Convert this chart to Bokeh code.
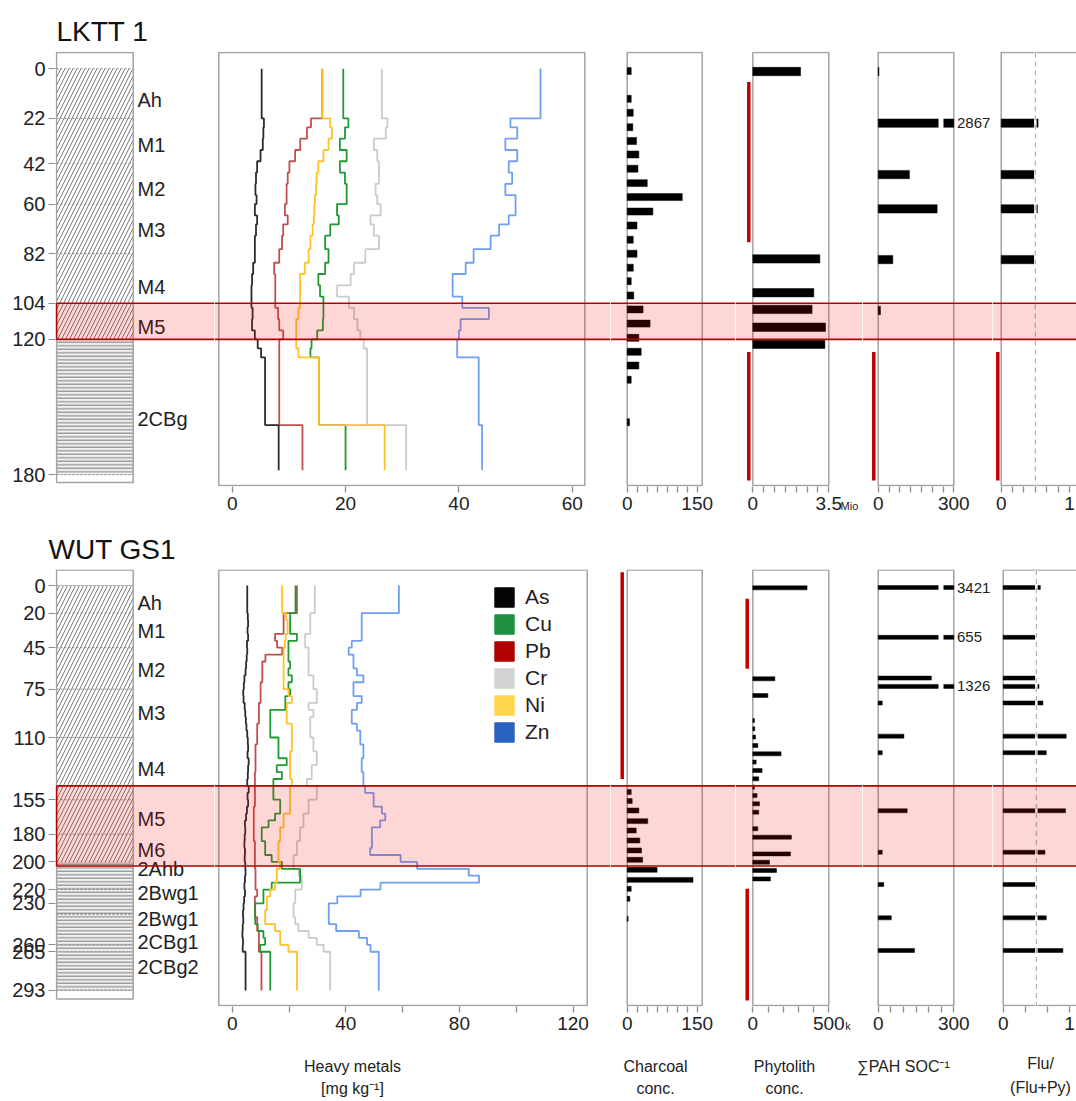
from bokeh.plotting import figure
from bokeh.layouts import row, column
from bokeh.models import Range1d, FixedTicker, Legend, LegendItem
from bokeh.embed import file_html
from bokeh.resources import INLINE
from bokeh.core.properties import value

FONT = "Liberation Sans"
NARROW = "Liberation Sans Narrow, Liberation Sans, sans-serif"

# ====================== DATA ======================
# ---- LKTT 1 ----
top_ticks = [0, 22, 42, 60, 82, 104, 120, 180]
top_horizons = ["Ah", "M1", "M2", "M3", "M4", "M5", "2CBg"]
top_horizon_mid = [14, 33.6, 53.2, 71.7, 96.8, 114.6, 155.2]
top_boundaries = [0, 22, 42, 60, 82, 180]
top_layer_top = [0, 120]
top_layer_bottom = [120, 180]
top_layer_pattern = ["/", "-"]
top_band = (104, 120)

top_sample_bounds = [0, 22, 26, 31, 36, 41, 46, 51, 56, 60, 65, 69, 74, 80, 86, 91, 96,
                     101, 106, 111, 116, 120, 124, 128, 158, 178]
as_top = [5.2, 5.6, 5.5, 5.4, 5.0, 4.4, 4.2, 4.1, 4.3, 4.0, 4.4, 4.2, 4.0, 4.0, 3.7, 3.5,
          3.4, 3.4, 3.6, 3.5, 4.0, 4.5, 5.1, 5.8, 8.2]
cu_top = [19.6, 20.5, 19.9, 19.0, 20.2, 19.0, 19.9, 20.2, 20.2, 18.5, 18.8, 17.3, 16.4, 17.0,
          16.4, 15.2, 15.5, 16.1, 16.1, 16.0, 15.0, 14.0, 13.8, 15.3, 20.0]
pb_top = [15.9, 13.9, 13.2, 12.0, 11.1, 10.1, 9.8, 9.6, 9.6, 9.3, 9.8, 9.0, 8.8, 8.3, 7.4,
          7.6, 7.6, 7.6, 8.1, 8.3, 9.0, 8.3, 8.3, 8.3, 12.4]
cr_top = [26.4, 27.4, 27.1, 25.0, 25.6, 25.9, 25.9, 25.3, 25.6, 26.2, 24.4, 25.0, 25.9, 23.5,
          21.5, 20.9, 18.5, 20.6, 21.5, 22.1, 22.6, 23.2, 23.8, 23.8, 30.7]
ni_top = [15.9, 17.3, 17.6, 17.0, 16.1, 15.2, 14.9, 14.8, 14.6, 14.5, 14.4, 14.2, 13.8, 13.5,
          12.8, 12.0, 12.0, 12.0, 11.7, 11.3, 11.3, 11.3, 11.7, 15.3, 26.9]
zn_top = [54.4, 49.1, 50.3, 48.2, 50.3, 48.8, 49.4, 48.2, 50.0, 50.0, 48.8, 47.1, 45.6, 42.6,
          41.2, 38.9, 38.9, 40.6, 45.3, 40.3, 40.0, 39.7, 39.7, 43.5, 44.1]

charcoal_top_depth = [1, 13.3, 19.5, 25.9, 32, 38, 44.3, 50.7, 56.9, 63.3, 69.5, 75.8, 82,
                      88.2, 94.2, 100.5, 106.7, 113, 119.3, 125.5, 131.6, 137.9, 156.7]
charcoal_top = [8.6, 8.6, 12.9, 12, 20, 25, 23, 43, 118, 55, 21, 13, 21, 13, 8.6, 14, 34, 49,
                25, 30, 25, 8.6, 5]
phyto_top_depth = [1.2, 84.3, 99.3, 106.7, 114.6, 122.2]
phyto_top = [2.2, 3.09, 2.81, 2.73, 3.35, 3.32]          # Mio
pah_top_depth = [1.2, 24.1, 46.9, 62.1, 84.6, 107.2]
pah_top = [3, 2867, 124, 234, 58, 9]
flu_top_depth = [24.1, 46.9, 62.1, 84.6]
flu_top = [0.54, 0.49, 0.53, 0.49]
phyto_top_nd = [(5.9, 76.9), (125.6, 182.6)]
pah_top_nd = [(125.6, 182.6)]
flu_top_nd = [(125.6, 182.6)]

# ---- WUT GS1 ----
bot_ticks = [0, 20, 45, 75, 110, 155, 180, 200, 220, 230, 260, 265, 293]
bot_horizons = ["Ah", "M1", "M2", "M3", "M4", "M5", "M6", "2Ahb", "2Bwg1", "2Bwg1",
                "2CBg1", "2CBg2"]
bot_horizon_mid = [13, 32.6, 61.5, 92.6, 132.6, 168.8, 191.7, 205, 222.6, 241, 258, 275.7]
bot_boundaries = [0, 20, 45, 75, 110, 155, 180, 200, 220, 238, 260, 293]
bot_layer_top = [0, 200]
bot_layer_bottom = [200, 293]
bot_layer_pattern = ["/", "-"]
bot_band = (145, 203)

bot_sample_bounds = [0, 20, 25, 30, 35, 40, 45, 50, 55, 60, 65, 70, 75, 80, 85, 90, 95, 100,
                     105, 110, 115, 120, 125, 130, 135, 140, 145, 150, 155, 160, 165, 170,
                     175, 180, 185, 190, 195, 200, 205, 210, 215, 220, 225, 230, 235, 240,
                     245, 250, 255, 260, 265, 293]
as_bot = [5.3, 5.5, 5.6, 5.4, 5.6, 5.2, 5.3, 5.1, 4.9, 4.7, 4.3, 4.1, 3.9, 4.0, 4.4, 4.6,
          4.8, 5.0, 5.3, 5.5, 5.6, 5.4, 5.8, 5.6, 5.5, 5.3, 5.8, 5.4, 5.6, 5.2, 4.9, 4.5,
          4.6, 4.4, 4.3, 4.5, 4.4, 4.6, 4.7, 4.5, 4.3, 4.5, 4.2, 4.0, 3.8, 3.9, 3.7, 3.6,
          3.8, 3.7, 4.7]
cu_bot = [22.3, 20.4, 20.4, 20.4, 22.8, 19.8, 19.8, 19.8, 20.4, 19.8, 21.0, 19.8, 20.4,
          18.7, 18.7, 13.4, 13.4, 13.4, 13.4, 16.3, 16.3, 16.3, 19.2, 15.7, 17.5, 14.5,
          14.5, 14.5, 16.9, 16.9, 15.1, 12.8, 10.4, 10.4, 11.6, 11.6, 13.9, 17.5, 23.9,
          23.9, 13.9, 11.0, 11.0, 8.1, 8.1, 8.1, 9.0, 11.0, 11.6, 9.8, 13.4]
pb_bot = [22.8, 18.1, 18.1, 18.1, 15.1, 15.8, 17.6, 11.7, 10.6, 10.6, 10.6, 10.0, 10.0,
          10.0, 9.4, 9.4, 9.4, 8.8, 8.8, 8.8, 8.2, 8.2, 8.2, 8.2, 8.0, 8.0, 8.0, 8.0, 8.0,
          7.6, 7.6, 7.6, 7.6, 7.6, 8.0, 8.0, 8.0, 8.0, 8.2, 8.2, 8.2, 8.8, 8.0, 8.0, 8.0,
          8.8, 8.8, 9.4, 9.4, 9.4, 10.3]
cr_bot = [29.1, 27.5, 27.5, 27.5, 25.7, 25.7, 26.9, 26.9, 26.9, 26.9, 28.6, 28.6, 29.8,
          29.8, 26.9, 28.6, 27.5, 27.5, 27.5, 28.6, 28.6, 29.8, 29.8, 28.0, 28.0, 26.3,
          29.8, 29.8, 26.9, 26.9, 25.1, 25.1, 23.9, 23.9, 22.8, 22.8, 21.6, 21.6, 23.4,
          24.5, 24.5, 22.2, 22.2, 21.6, 21.6, 22.2, 23.3, 26.9, 29.8, 32.2, 34.5]
ni_bot = [17.6, 19.0, 19.5, 19.5, 18.8, 18.5, 18.1, 18.1, 18.1, 18.1, 18.1, 18.1, 19.8,
          21.0, 19.2, 19.2, 19.2, 21.0, 21.0, 21.0, 21.0, 20.4, 20.4, 20.4, 20.4, 21.0,
          20.4, 20.4, 20.4, 20.4, 18.1, 18.1, 16.9, 16.9, 16.3, 16.3, 16.3, 16.9, 15.7,
          15.7, 15.1, 13.4, 12.2, 12.2, 11.6, 11.6, 15.1, 16.9, 16.9, 19.8, 22.8]
zn_bot = [58.7, 45.6, 45.6, 45.6, 45.6, 42.1, 41.0, 42.7, 42.7, 43.9, 46.2, 42.7, 42.7,
          45.6, 43.9, 42.1, 42.1, 43.9, 45.1, 45.1, 46.2, 46.2, 45.6, 45.6, 46.2, 46.2,
          46.8, 49.8, 49.8, 52.7, 53.9, 52.1, 49.2, 49.2, 49.2, 48.6, 59.3, 65.1, 83.3,
          86.9, 52.2, 45.2, 37.0, 34.0, 34.0, 34.0, 36.6, 44.6, 47.5, 48.7, 51.6]

charcoal_bot_depth = [149.5, 156, 162.8, 170.5, 177.3, 184.5, 191.7, 198.5, 205.7, 213,
                      219.5, 226.7, 241.2]
charcoal_bot = [8.6, 10.7, 25, 44, 19.3, 27, 30.7, 33, 64, 141, 8.6, 5.7, 2]
phyto_bot_depth = [1.7, 67.5, 79.6, 97.7, 103.7, 109.7, 115.8, 121.8, 127.8, 133.9, 139.9,
                   145.9, 152, 158, 164, 176, 182.1, 194.2, 200.2, 206.2, 212.3]
phyto_bot = [357, 145, 99, 11, 13, 18, 33, 186, 22, 61, 39, 11, 28, 44, 39, 33, 254, 248,
             110, 156, 116]                              # thousands
pah_bot_depth = [1.5, 37.5, 67, 73, 85, 109, 121, 163, 193, 216.4, 240.5, 264.1]
pah_bot = [3421, 655, 211, 1326, 16, 102, 16, 115, 16, 22, 52, 144]
flu_bot_depth = [1.5, 37.5, 67, 73, 85, 109, 121, 163, 193, 216.4, 240.5, 264.1]
flu_bot = [0.56, 0.49, 0.49, 0.54, 0.6, 0.95, 0.65, 0.94, 0.63, 0.49, 0.65, 0.9]
charcoal_bot_nd = [(-9.6, 140)]
phyto_bot_nd = [(9.6, 60.3), (219.5, 300.3)]

metal_names = ["As", "Cu", "Pb", "Cr", "Ni", "Zn"]
metal_line_colors = {"As": "#2b2b2b", "Cu": "#1f9a33", "Pb": "#c0504d", "Cr": "#cbcbcb",
                     "Ni": "#ffc12a", "Zn": "#6f9ff0"}
metal_legend_colors = {"As": "#050505", "Cu": "#1e8f3e", "Pb": "#b00000", "Cr": "#d3d3d3",
                       "Ni": "#ffd54a", "Zn": "#2a62c0"}
metal_draw_order = ["Cr", "Zn", "Pb", "Cu", "Ni", "As"]

bottom_titles = ["Heavy metals", "[mg kg\u207b\u00b9]", "Charcoal", "conc.", "Phytolith",
                 "conc.", "\u2211PAH SOC\u207b\u00b9", "Flu/", "(Flu+Py)"]

# ====================== LAYOUT (page pixels) ======================
FRAMES = [(55, 214), (214, 610), (610, 735), (735, 862), (862, 992), (992, 1076)]
TOP = dict(zero=68.3, ppc=2.255, frame=(51, 486), bt=51, bb=36, box=(52, 485), litho_bottom=482)
BOT = dict(zero=585.0, ppc=1.382, frame=(569, 1006), bt=47, bb=36, box=(569.5, 1005),
           litho_bottom=998.5)
STRIP = (1042, 1100)
bottom_title_pos = [(352, 1066), (352, 1088), (655, 1066), (655, 1088), (784, 1066),
                    (784, 1088), (903, 1066), (1040, 1063), (1040, 1087)]
BOX_GREY = "#a3a3a3"
ND_RED = "#c00000"
NBSP = "\u00a0"


def px2val(px, zero, ppx):
    return (px - zero) / ppx


def make_fig(prof, frame_x, zero, ppx, left_border=0, first=False):
    fy0, fy1 = prof["frame"]
    x0, x1 = frame_x
    xr = Range1d(px2val(x0, zero, ppx), px2val(x1, zero, ppx))
    yr = Range1d(px2val(fy1, prof["zero"], prof["ppc"]), px2val(fy0, prof["zero"], prof["ppc"]))
    p = figure(width=int(round(left_border + x1 - x0)),
               height=int(prof["bt"] + fy1 - fy0 + prof["bb"]),
               x_range=xr, y_range=yr, output_backend="svg", toolbar_location=None,
               x_axis_location=None if first else "below",
               y_axis_location="left" if first else None,
               min_border_left=left_border, min_border_right=0,
               min_border_top=prof["bt"], min_border_bottom=prof["bb"])
    p.outline_line_color = None
    p.grid.visible = False
    return p


def style_xaxis(p, major, minor, overrides=None):
    ax = p.xaxis[0]
    ax.ticker = FixedTicker(ticks=major, minor_ticks=minor)
    allt = list(major) + list(minor)
    ax.bounds = (min(allt), max(allt))
    ax.axis_line_color = None
    for k in ("major", "minor"):
        setattr(ax, k + "_tick_line_color", "#8c8c8c")
        setattr(ax, k + "_tick_line_width", 1.3)
        setattr(ax, k + "_tick_in", 0)
        setattr(ax, k + "_tick_out", 6)
    ax.major_label_text_font = NARROW
    ax.major_label_text_font_size = "19px"
    ax.major_label_text_color = "#222222"
    ax.major_label_standoff = 4
    if overrides:
        ax.major_label_overrides = overrides
    return ax


def add_band(p, x_left, band, left_edge=False):
    b0, b1 = band
    xe = p.x_range.end
    p.quad(left=x_left, right=xe, top=b0, bottom=b1, fill_color="#ff0000", fill_alpha=0.16,
           line_color=None)
    p.segment(x0=x_left, x1=xe, y0=[b0, b1], y1=[b0, b1], line_color="#b30000", line_width=1.6)
    if left_edge:
        p.segment(x0=x_left, x1=x_left, y0=b0, y1=b1, line_color="#b30000", line_width=1.6)


def add_box(p, prof, x0, x1, bottom_px=None):
    yv = lambda py: px2val(py, prof["zero"], prof["ppc"])
    p.quad(left=x0, right=x1, top=yv(prof["box"][0]),
           bottom=yv(bottom_px if bottom_px else prof["box"][1]),
           fill_color=None, line_color=BOX_GREY, line_width=1.5)


def step_xy(bounds, vals):
    xs, ys = [], []
    for i, v in enumerate(vals):
        xs += [v, v]
        ys += [bounds[i], bounds[i + 1]]
    return xs, ys


def build(prof, L):
    yv = lambda py: px2val(py, prof["zero"], prof["ppc"])
    figs = []

    # ---------- lithology column ----------
    zx, ppx = 55.0, 1.0
    p = make_fig(prof, FRAMES[0], zx, ppx, left_border=55, first=True)
    p.title.text = L["title"]
    p.title.text_font = FONT
    p.title.text_font_size = "28px"
    p.title.text_font_style = "normal"
    p.title.text_color = "#111111"
    p.title.align = "left"
    p.title.offset = L["title_offset"]
    p.title.standoff = 9
    bx0, bx1 = px2val(56, zx, ppx), px2val(132.7, zx, ppx)
    for t, b, pat in zip(L["layer_top"], L["layer_bottom"], L["layer_pattern"]):
        p.quad(left=bx0, right=bx1, top=t, bottom=b,
               fill_color="white" if pat == "/" else "#f0f0f0",
               hatch_pattern=pat, hatch_scale=8 if pat == "/" else 3.5,
               hatch_color="#7a7a7a", hatch_weight=1.0, line_color=None)
    p.segment(x0=bx0, x1=bx1, y0=L["boundaries"], y1=L["boundaries"], line_dash="2 2",
              line_color="#8a8a8a", line_width=1)
    add_box(p, prof, bx0, bx1, bottom_px=prof["litho_bottom"])
    p.text(x=px2val(137, zx, ppx), y=L["hz_mid"], text=L["hz_names"], text_baseline="middle",
           text_font=value(FONT), text_font_size="20px", text_color="#222222")
    ax = p.yaxis[0]
    ax.ticker = FixedTicker(ticks=L["ticks"], minor_ticks=[])
    ax.axis_line_color = None
    ax.major_tick_in = 0
    ax.major_tick_out = 7
    ax.major_tick_line_color = "#8a8a8a"
    ax.minor_tick_line_color = None
    ax.major_label_text_font = FONT
    ax.major_label_text_font_size = "20px"
    ax.major_label_text_color = "#222222"
    ax.major_label_standoff = 3
    add_band(p, bx0, L["band"], left_edge=True)
    figs.append(p)

    # ---------- heavy metals ----------
    zx, ppx = 231.7, L["hm_ppx"]
    p = make_fig(prof, FRAMES[1], zx, ppx)
    add_box(p, prof, px2val(218.3, zx, ppx), px2val(L["hm_right_px"], zx, ppx))
    for m in metal_draw_order:
        xs, ys = step_xy(L["bounds"], L["metals"][m])
        p.line(xs, ys, line_color=metal_line_colors[m], line_width=1.8)
    style_xaxis(p, L["hm_major"], L["hm_minor"])
    if L.get("legend"):
        items = []
        xo = p.x_range.start - 20
        yo = p.y_range.start + 50
        for m in metal_names:
            # swatch-only renderer, placed outside the visible frame
            r = p.quad(left=[xo], right=[xo + 1], top=[yo], bottom=[yo + 1],
                       fill_color=metal_legend_colors[m], line_color=metal_legend_colors[m],
                       line_width=1.2)
            items.append(LegendItem(label=m, renderers=[r]))
        lg = Legend(items=items, location=(278, 262), orientation="vertical",
                    border_line_color=None, background_fill_alpha=0, padding=0, margin=0,
                    spacing=3, glyph_width=24, glyph_height=24, label_height=21,
                    label_standoff=9, label_text_font=FONT, label_text_font_size="21px",
                    label_text_color="#222222")
        p.add_layout(lg)
    add_band(p, p.x_range.start, L["band"])
    figs.append(p)

    # ---------- bar panels ----------
    for k, key in enumerate(["ch", "ph", "pah", "flu"]):
        cfg = L["bars"][key]
        zx, ppx = cfg["zero"], cfg["ppx"]
        p = make_fig(prof, FRAMES[2 + k], zx, ppx)
        x1b = px2val(cfg["right_px"], zx, ppx)
        add_box(p, prof, 0.0, x1b)
        cap = cfg.get("cap")
        rights = [min(v, cap) if cap else v for v in cfg["vals"]]
        p.hbar(y=cfg["depth"], height=cfg["h"], left=0, right=rights, fill_color="black",
               line_color="black", line_width=0.5)
        if cap:
            big_d = [d for d, v in zip(cfg["depth"], cfg["vals"]) if v > cap]
            big_t = [str(v) for v in cfg["vals"] if v > cap]
            p.quad(left=px2val(938, zx, ppx), right=px2val(943, zx, ppx),
                   top=[d - cfg["h"] for d in big_d], bottom=[d + cfg["h"] for d in big_d],
                   fill_color="white", line_color=None)
            p.text(x=px2val(956.5, zx, ppx), y=big_d, text=big_t, text_baseline="middle",
                   text_font=value(NARROW), text_font_size="15px", text_color="#222222")
        if key == "flu":
            yb0, yb1 = yv(prof["box"][0]), yv(prof["box"][1])
            p.segment(x0=0.5, x1=0.5, y0=yb0, y1=yb1, line_color="white", line_width=2.5)
            p.segment(x0=0.5, x1=0.5, y0=yb0, y1=yb1, line_color="#b0b0b0", line_width=1.2,
                      line_dash="5 4")
        for (d0, d1) in cfg.get("nd", []):
            xnd = px2val(cfg["nd_px"], zx, ppx)
            p.segment(x0=xnd, x1=xnd, y0=d0, y1=d1, line_color=ND_RED, line_width=3.5)
        ax = style_xaxis(p, cfg["major"], cfg["minor"], cfg.get("overrides"))
        if cfg.get("unit"):
            # unit sits right of the last tick label; the axis label is centred on the
            # panel, so it is pushed right with leading no-break spaces
            utxt, npad = cfg["unit"]
            ax.axis_label = NBSP * npad + utxt
            ax.axis_label_text_font = NARROW
            ax.axis_label_text_font_size = "11px"
            ax.axis_label_text_font_style = "normal"
            ax.axis_label_text_color = "#222222"
            ax.axis_label_standoff = -13
        add_band(p, p.x_range.start, L["band"])
        figs.append(p)
    return figs


ch_ticks = [i * 150 / 7 for i in range(1, 7)]
top_spec = dict(
    title="LKTT 1", title_offset=1,
    ticks=top_ticks, hz_names=top_horizons, hz_mid=top_horizon_mid,
    boundaries=top_boundaries, layer_top=top_layer_top, layer_bottom=top_layer_bottom,
    layer_pattern=top_layer_pattern, band=top_band,
    hm_ppx=5.667, hm_right_px=584.3, hm_major=[0, 20, 40, 60], hm_minor=[],
    bounds=top_sample_bounds,
    metals={"As": as_top, "Cu": cu_top, "Pb": pb_top, "Cr": cr_top, "Ni": ni_top, "Zn": zn_top},
    bars={
        "ch": dict(zero=626.7, ppx=70 / 150, right_px=701.7, depth=charcoal_top_depth,
                   vals=charcoal_top, h=3.1, major=[0, 150], minor=ch_ticks),
        "ph": dict(zero=752.3, ppx=76 / 3.5, right_px=828.3, depth=phyto_top_depth,
                   vals=phyto_top, h=3.7, major=[0, 3.5], minor=[0.5, 1, 1.5, 2, 2.5, 3],
                   overrides={0: "0", 3.5: "3.5"}, nd=phyto_top_nd, nd_px=748.3,
                   unit=("Mio", 33)),
        "pah": dict(zero=877.7, ppx=75.6 / 300, right_px=953.3, depth=pah_top_depth,
                    vals=pah_top, h=3.7, cap=300, major=[0, 300],
                    minor=[i * 300 / 7 for i in range(1, 7)], nd=pah_top_nd, nd_px=873.3),
        "flu": dict(zero=1000.7, ppx=68.3, right_px=1085, depth=flu_top_depth, vals=flu_top,
                    h=3.7, major=[0, 1], minor=[i / 6 for i in range(1, 6)], nd=flu_top_nd,
                    nd_px=997.3),
    },
)

bot_spec = dict(
    title="WUT GS1", title_offset=-7,
    ticks=bot_ticks, hz_names=bot_horizons, hz_mid=bot_horizon_mid,
    boundaries=bot_boundaries, layer_top=bot_layer_top, layer_bottom=bot_layer_bottom,
    layer_pattern=bot_layer_pattern, band=bot_band,
    hm_ppx=2.84, hm_right_px=586.7, hm_major=[0, 40, 80, 120], hm_minor=[20, 60, 100],
    bounds=bot_sample_bounds, legend=True,
    metals={"As": as_bot, "Cu": cu_bot, "Pb": pb_bot, "Cr": cr_bot, "Ni": ni_bot, "Zn": zn_bot},
    bars={
        "ch": dict(zero=626.7, ppx=70 / 150, right_px=701.7, depth=charcoal_bot_depth,
                   vals=charcoal_bot, h=3.6, major=[0, 150], minor=ch_ticks,
                   nd=charcoal_bot_nd, nd_px=621.7),
        "ph": dict(zero=752.3, ppx=76 / 500, right_px=828.3, depth=phyto_bot_depth,
                   vals=phyto_bot, h=2.9, major=[0, 500], minor=[100, 200, 300, 400],
                   nd=phyto_bot_nd, nd_px=746.7, unit=("k", 32)),
        "pah": dict(zero=877.7, ppx=75.6 / 300, right_px=953.3, depth=pah_bot_depth,
                    vals=pah_bot, h=2.9, cap=300, major=[0, 300],
                    minor=[50, 100, 150, 200, 250]),
        "flu": dict(zero=1002.7, ppx=66.3, right_px=1085, depth=flu_bot_depth, vals=flu_bot,
                    h=2.9, major=[0, 1], minor=[1 / 3, 2 / 3]),
    },
)

top_row = row(build(TOP, top_spec), spacing=0)
bot_row = row(build(BOT, bot_spec), spacing=0)

# strip holding the panel titles under the bottom profile (page pixel coordinates)
s = figure(width=1076, height=STRIP[1] - STRIP[0], x_range=Range1d(0, 1076),
           y_range=Range1d(STRIP[1], STRIP[0]), output_backend="svg", toolbar_location=None,
           x_axis_location=None, y_axis_location=None, min_border=0)
s.outline_line_color = None
s.grid.visible = False
s.text(x=[pp[0] for pp in bottom_title_pos], y=[pp[1] for pp in bottom_title_pos],
       text=bottom_titles, text_align="center", text_baseline="alphabetic",
       text_font=value(NARROW), text_font_size="16px", text_color="#222222")

layout = column(top_row, bot_row, s, spacing=0)

open("out.html", "w").write(file_html(layout, INLINE))
